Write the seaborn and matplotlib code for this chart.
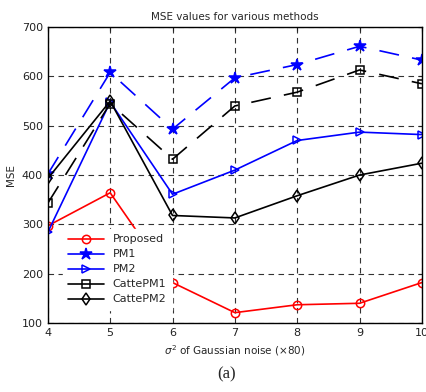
import numpy as np
import pandas as pd
import matplotlib
matplotlib.use('Agg')
import matplotlib.pyplot as plt
from matplotlib.lines import Line2D
import seaborn as sns

noise = [4, 5, 6, 7, 8, 9, 10]
proposed = [297, 364, 182, 121, 137, 140, 182]
pm1 = [402, 608, 493, 597, 624, 661, 633]
pm2 = [284, 548, 361, 410, 470, 487, 482]
catte_pm1 = [343, 545, 432, 540, 568, 613, 585]
catte_pm2 = [393, 550, 318, 313, 358, 400, 424]

series = [
    ('Proposed', proposed, 'red', 'o', '-', 'none'),
    ('PM1', pm1, 'blue', '*', (0, (12, 8)), 'blue'),
    ('PM2', pm2, 'blue', '>', '-', 'none'),
    ('CattePM1', catte_pm1, 'black', 's', (0, (12, 8)), 'none'),
    ('CattePM2', catte_pm2, 'black', 'd', '-', 'none'),
]

sns.set_style('white')
plt.rcParams['font.family'] = ['DejaVu Sans']

fig = plt.figure(figsize=(4.27, 3.92), dpi=100)
ax = fig.add_axes([0.112, 0.176, 0.876, 0.755])

handles = []
for name, vals, col, mk, ls, fc in series:
    df = pd.DataFrame({'x': noise, 'y': vals})
    ms = 9 if mk == '*' else 6
    sns.lineplot(data=df, x='x', y='y', ax=ax, color=col, marker=mk,
                 linestyle=ls, linewidth=1.2, markersize=ms,
                 markerfacecolor=fc, markeredgecolor=col, markeredgewidth=1.1)
    # legend shows every method with a solid line
    handles.append(Line2D([], [], color=col, marker=mk, linestyle='-', linewidth=1.2,
                          markersize=ms, markerfacecolor=fc, markeredgecolor=col,
                          markeredgewidth=1.1, label=name))

ax.set_xlim(4, 10)
ax.set_ylim(100, 700)
ax.set_xticks(noise)
ax.set_yticks(range(100, 701, 100))
ax.grid(True, color='#333333', linestyle=(0, (5, 4)), linewidth=0.8)
for s in ax.spines.values():
    s.set_color('black')
    s.set_linewidth(1.0)
ax.tick_params(axis='both', labelsize=8, direction='in', length=3, colors='#222222')
ax.tick_params(top=True, right=True)
ax.set_title('MSE values for various methods', fontsize=7.5, pad=5)
ax.set_ylabel('MSE', fontsize=7.5)
ax.set_xlabel(r'$\sigma^2$ of Gaussian noise ($\times$80)', fontsize=7.5, labelpad=4)

ax.legend(handles=handles, loc='lower left', bbox_to_anchor=(0.025, 0.025), fontsize=8,
          frameon=True, fancybox=False, edgecolor='white', framealpha=1,
          handlelength=3.2, labelspacing=0.45, borderpad=0.5)

fig.text(0.53, 0.025, '(a)', ha='center', va='bottom', fontsize=12,
         family=['Liberation Serif', 'DejaVu Serif'])

fig.savefig('out.png', dpi=100)
